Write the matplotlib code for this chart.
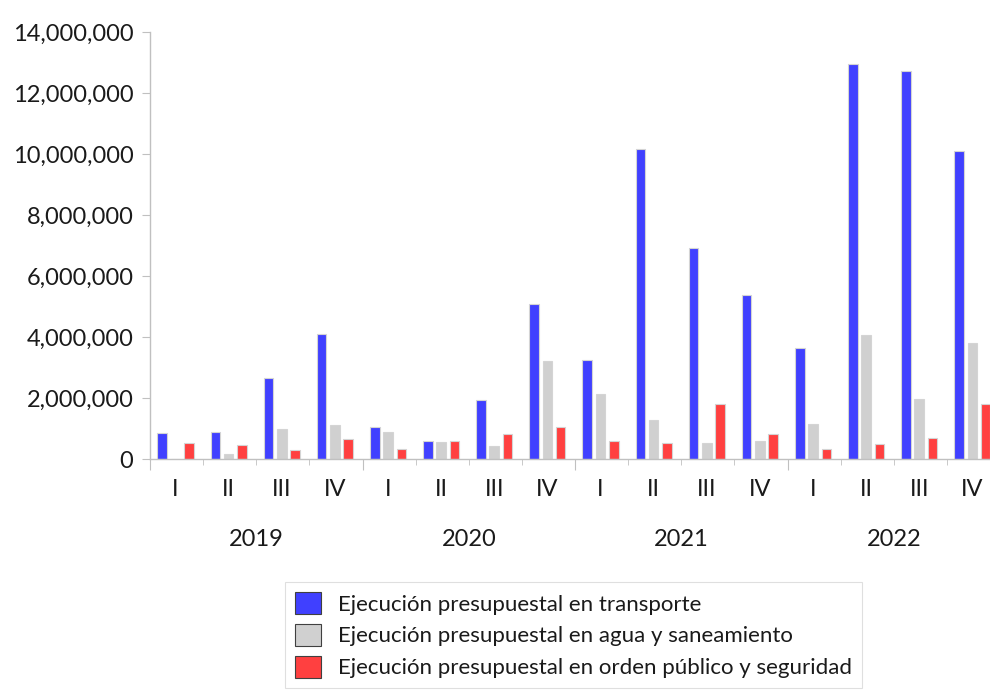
import numpy as np
import matplotlib
matplotlib.use("Agg")
import matplotlib.pyplot as plt
from matplotlib.ticker import FuncFormatter, MultipleLocator
from matplotlib.patches import Patch

plt.rcParams['font.family'] = ['Lato', 'DejaVu Sans']

years = ["2019", "2020", "2021", "2022"]
quarters = ["I", "II", "III", "IV"]

# valores (millones)
transporte = [0.85, 0.90, 2.65, 4.10, 1.06, 0.60, 1.92, 5.07,
              3.26, 10.16, 6.92, 5.39, 3.63, 12.95, 12.73, 10.11]
agua = [0.0, 0.17, 0.99, 1.11, 0.87, 0.57, 0.41, 3.20,
        2.13, 1.28, 0.53, 0.58, 1.16, 4.07, 1.98, 3.81]
orden = [0.52, 0.45, 0.28, 0.65, 0.32, 0.60, 0.82, 1.06,
         0.60, 0.52, 1.79, 0.81, 0.32, 0.48, 0.69, 1.79]

series = [
    ("Ejecución presupuestal en transporte", transporte, "#4040ff"),
    ("Ejecución presupuestal en agua y saneamiento", agua, "#d0d0d0"),
    ("Ejecución presupuestal en orden público y seguridad", orden, "#ff4040"),
]

W, H = 990, 691
fig = plt.figure(figsize=(W / 100, H / 100), dpi=100)
ax = fig.add_axes([150 / W, (H - 459) / H, 850 / W, 427 / H])

n = len(transporte)
x = np.arange(n) + 0.48
for k, (lab, vals, col) in enumerate(series):
    ax.bar(x + (k - 1) * 0.25, np.array(vals) * 1e6, width=0.18, color=col,
           edgecolor="#d4d4d4", linewidth=0.8, zorder=2)

ax.set_xlim(0, n)
ax.set_ylim(0, 14e6)
ax.yaxis.set_major_locator(MultipleLocator(2e6))
ax.yaxis.set_major_formatter(FuncFormatter(lambda v, p: f"{int(v):,}"))
ax.tick_params(axis="y", length=6, color="#c0c0c0", pad=6, labelsize=17,
               labelcolor="#1a1a1a")

# ticks del eje x: cortos entre trimestres, largos entre años
ax.set_xticks(np.arange(0, n + 1, 4))
ax.set_xticks(np.arange(0, n + 1), minor=True)
ax.set_xticklabels([])
ax.tick_params(axis="x", which="major", length=8, color="#c0c0c0")
ax.tick_params(axis="x", which="minor", length=4, color="#c0c0c0")

for s in ["top", "right"]:
    ax.spines[s].set_visible(False)
for s in ["left", "bottom"]:
    ax.spines[s].set_color("#c0c0c0")
    ax.spines[s].set_linewidth(1)

for i in range(n):
    ax.annotate(quarters[i % 4], xy=(i + 0.48, 0), xycoords=("data", "axes fraction"),
                xytext=(0, -31), textcoords="offset pixels", ha="center", va="center",
                fontsize=17, color="#1a1a1a")
for j, yr in enumerate(years):
    ax.annotate(yr, xy=(j * 4 + 2, 0), xycoords=("data", "axes fraction"),
                xytext=(0, -81), textcoords="offset pixels", ha="center", va="center",
                fontsize=17, color="#1a1a1a")

handles = [Patch(facecolor=c, edgecolor="#404040", linewidth=0.8) for _, _, c in series]
leg = fig.legend(handles, [s[0] for s in series], loc="upper left",
                 bbox_to_anchor=(285 / W, (H - 582) / H), fontsize=16,
                 frameon=True, fancybox=False, edgecolor="#d8d8d8",
                 handlelength=1.15, handleheight=1.15, labelspacing=0.42,
                 handletextpad=0.8, borderpad=0.45, borderaxespad=0)
leg.get_frame().set_linewidth(0.8)
for t in leg.get_texts():
    t.set_color("#1a1a1a")

fig.savefig("out.png", dpi=100)
